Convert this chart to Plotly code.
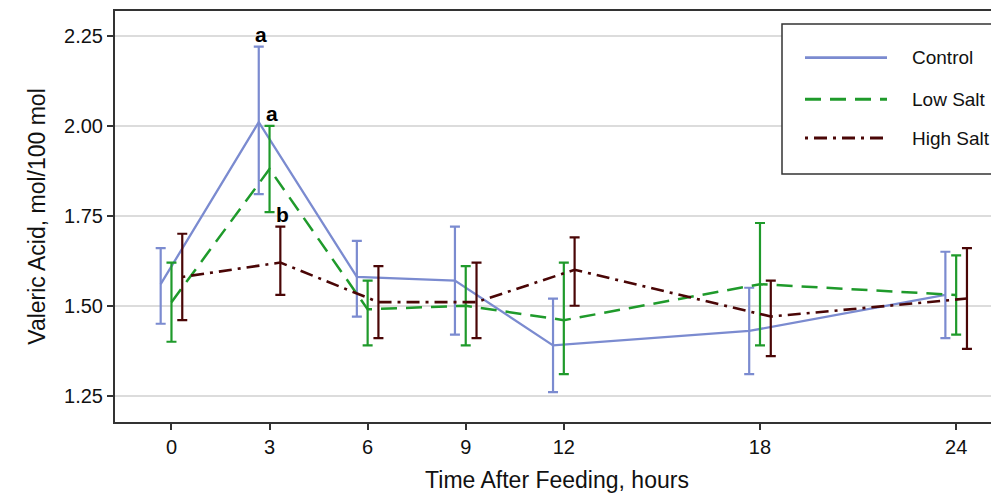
import plotly.graph_objects as go

# ---- data ----
time_h = [0, 3, 6, 9, 12, 18, 24]
series_names = ["Control", "Low Salt", "High Salt"]

control_mean = [1.56, 2.01, 1.58, 1.57, 1.39, 1.43, 1.53]
control_upper = [1.66, 2.22, 1.68, 1.72, 1.52, 1.55, 1.65]
control_lower = [1.45, 1.81, 1.47, 1.42, 1.26, 1.31, 1.41]

low_mean = [1.51, 1.88, 1.49, 1.50, 1.46, 1.56, 1.53]
low_upper = [1.62, 2.00, 1.57, 1.61, 1.62, 1.73, 1.64]
low_lower = [1.40, 1.76, 1.39, 1.39, 1.31, 1.39, 1.42]

high_mean = [1.58, 1.62, 1.51, 1.51, 1.60, 1.47, 1.52]
high_upper = [1.70, 1.72, 1.61, 1.62, 1.69, 1.57, 1.66]
high_lower = [1.46, 1.53, 1.41, 1.41, 1.50, 1.36, 1.38]

x_ticks = [0, 3, 6, 9, 12, 18, 24]
y_ticks = [1.25, 1.50, 1.75, 2.00, 2.25]
y_tick_labels = ["1.25", "1.50", "1.75", "2.00", "2.25"]

sig_letters = ["a", "a", "b"]          # at 3 h, for Control, Low Salt, High Salt
sig_time = 3

# ---- style ----
FONT = "Liberation Sans, Arial, Helvetica, sans-serif"
colors = ["#7b8bd0", "#1f9a2b", "#4a0606"]
dashes = ["solid", "16px,9px", "3px,6px,13px,6px"]
widths = [2.3, 2.5, 2.6]
dodge = [-0.33, 0.0, 0.33]

means = [control_mean, low_mean, high_mean]
uppers = [control_upper, low_upper, high_upper]
lowers = [control_lower, low_lower, high_lower]

# page body has an 8px margin: figure coordinates = reference pixels - 8
OFF = 8
W, H = 999 - OFF, 495 - OFF

fig = go.Figure()
for i, name in enumerate(series_names):
    xs = [t + dodge[i] for t in time_h]
    m, u, l = means[i], uppers[i], lowers[i]
    fig.add_trace(go.Scatter(
        x=xs, y=m, mode="lines", name=name,
        line=dict(color=colors[i], width=widths[i], dash=dashes[i]),
        error_y=dict(type="data", symmetric=False,
                     array=[uu - mm for uu, mm in zip(u, m)],
                     arrayminus=[mm - ll for mm, ll in zip(m, l)],
                     color=colors[i], thickness=2.2, width=5),
        showlegend=False,
    ))

# significance letters
ti = time_h.index(sig_time)
for i, letter in enumerate(sig_letters):
    fig.add_annotation(
        x=sig_time + dodge[i] + 0.08, y=uppers[i][ti], text="<b>%s</b>" % letter,
        showarrow=False, yanchor="bottom", xanchor="center", yshift=-1,
        font=dict(family=FONT, size=21, color="black"))

# ---- manual legend (reference pixel -> paper helpers) ----
PL, PR, PT, PB = 115 - OFF, 999 - OFF, 11 - OFF, 422 - OFF
def px(x):
    return (x - OFF - PL) / (PR - PL)
def py(y):
    return 1 - (y - OFF - PT) / (PB - PT)

fig.add_shape(type="rect", xref="paper", yref="paper",
              x0=px(782), x1=px(1012), y0=py(174), y1=py(24),
              line=dict(color="#333333", width=1.5), fillcolor="white", layer="above")
leg_y = [57.7, 99.3, 138]
for i, name in enumerate(series_names):
    fig.add_shape(type="line", xref="paper", yref="paper",
                  x0=px(805), x1=px(887), y0=py(leg_y[i]), y1=py(leg_y[i]),
                  line=dict(color=colors[i], width=widths[i] + 0.5, dash=dashes[i]),
                  layer="above")
    fig.add_annotation(x=px(910), y=py(leg_y[i]), xref="paper", yref="paper",
                       text=name, showarrow=False, xanchor="left", yanchor="middle",
                       font=dict(family=FONT, size=19, color="#111111"))

fig.update_layout(
    width=W, height=H,
    margin=dict(l=PL, r=W - PR, t=PT, b=H - PB),
    paper_bgcolor="white", plot_bgcolor="white",
    font=dict(family=FONT, size=20, color="#111111"),
    xaxis=dict(range=[-1.727, 25.31], tickvals=x_ticks, ticktext=[str(t) for t in x_ticks],
               showgrid=False, zeroline=False, showline=True, linecolor="#333333",
               linewidth=2, mirror=True, ticks="outside", ticklen=6, tickwidth=2,
               tickcolor="#333333", tickfont=dict(size=20, color="#111111"),
               title=dict(text="Time After Feeding, hours", font=dict(size=23), standoff=15)),
    yaxis=dict(range=[1.177, 2.319], tickvals=y_ticks, ticktext=y_tick_labels,
               showgrid=True, gridcolor="#dcdcdc", gridwidth=2, zeroline=False,
               showline=True, linecolor="#333333", linewidth=2,
               ticks="outside", ticklen=6, tickwidth=2, tickcolor="#333333",
               tickfont=dict(size=20, color="#111111"),
               title=dict(text="Valeric Acid, mol/100 mol", font=dict(size=23), standoff=12)),
)

fig.write_html("out.html")
